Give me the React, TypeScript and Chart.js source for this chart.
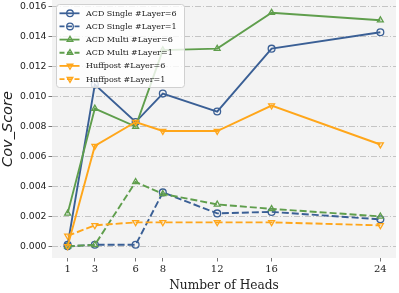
import React, { useEffect, useRef } from "react";
import { Chart, registerables } from "chart.js";

Chart.register(...registerables);

const heads = [1, 3, 6, 8, 12, 16, 24];
const yTicks = [0, 0.002, 0.004, 0.006, 0.008, 0.01, 0.012, 0.014, 0.016];

const acdSingle6 = [0.0001, 0.0108, 0.0083, 0.0102, 0.009, 0.0132, 0.0143];
const acdSingle1 = [0.0, 0.0001, 0.0001, 0.0036, 0.0022, 0.0023, 0.0018];
const acdMulti6 = [0.0022, 0.0092, 0.008, 0.0131, 0.0132, 0.0156, 0.0151];
const acdMulti1 = [0.0, 0.0001, 0.0043, 0.0035, 0.0028, 0.0025, 0.002];
const huff6 = [0.0, 0.0067, 0.0083, 0.0077, 0.0077, 0.0094, 0.0068];
const huff1 = [0.0007, 0.0014, 0.0016, 0.0016, 0.0016, 0.0016, 0.0014];

const labels = [
  "ACD Single #Layer=6",
  "ACD Single #Layer=1",
  "ACD Multi #Layer=6",
  "ACD Multi #Layer=1",
  "Huffpost #Layer=6",
  "Huffpost #Layer=1",
];

const BLUE = "#3a5f95";
const GREEN = "#5f9e4c";
const ORANGE = "#ffa61a";
const DASH = [7, 3];

const series = [
  { label: labels[0], data: acdSingle6, color: BLUE, style: "circle", rot: 0, dashed: false },
  { label: labels[1], data: acdSingle1, color: BLUE, style: "circle", rot: 0, dashed: true },
  { label: labels[2], data: acdMulti6, color: GREEN, style: "triangle", rot: 0, dashed: false },
  { label: labels[3], data: acdMulti1, color: GREEN, style: "triangle", rot: 0, dashed: true },
  { label: labels[4], data: huff6, color: ORANGE, style: "triangle", rot: 180, dashed: false },
  { label: labels[5], data: huff1, color: ORANGE, style: "triangle", rot: 180, dashed: true },
];

const bgPlugin = {
  id: "bgArea",
  beforeDraw(chart: any) {
    const { ctx, chartArea } = chart;
    ctx.save();
    ctx.fillStyle = "#f3f3f3";
    ctx.fillRect(chartArea.left, chartArea.top, chartArea.right - chartArea.left, chartArea.bottom - chartArea.top);
    ctx.restore();
  },
};

function drawMarker(ctx: CanvasRenderingContext2D, style: string, rot: number, x: number, y: number, r: number) {
  ctx.beginPath();
  if (style === "circle") {
    ctx.arc(x, y, r, 0, Math.PI * 2);
  } else {
    let rad = (rot * Math.PI) / 180;
    ctx.moveTo(x + Math.sin(rad) * r, y - Math.cos(rad) * r);
    rad += (2 * Math.PI) / 3;
    ctx.lineTo(x + Math.sin(rad) * r, y - Math.cos(rad) * r);
    rad += (2 * Math.PI) / 3;
    ctx.lineTo(x + Math.sin(rad) * r, y - Math.cos(rad) * r);
    ctx.closePath();
  }
  ctx.stroke();
}

const legendPlugin = {
  id: "mplLegend",
  afterDraw(chart: any) {
    const ctx: CanvasRenderingContext2D = chart.ctx;
    const bx = 56, by = 4, bw = 128, bh = 83;
    ctx.save();
    ctx.beginPath();
    (ctx as any).roundRect(bx + 0.5, by + 0.5, bw, bh, 3);
    ctx.fillStyle = "rgba(255,255,255,0.8)";
    ctx.fill();
    ctx.strokeStyle = "#d0d0d0";
    ctx.lineWidth = 1;
    ctx.stroke();
    ctx.font = "8px 'DejaVu Serif'";
    ctx.textBaseline = "middle";
    ctx.textAlign = "left";
    series.forEach((s, i) => {
      const cy = 13.3 + i * 13.15;
      ctx.strokeStyle = s.color;
      ctx.lineWidth = 1.8;
      ctx.setLineDash(s.dashed ? [5, 2.5] : []);
      ctx.beginPath();
      ctx.moveTo(59.5, cy);
      ctx.lineTo(79.5, cy);
      ctx.stroke();
      ctx.setLineDash([]);
      ctx.lineWidth = 1.3;
      drawMarker(ctx, s.style, s.rot, 70, cy, 3.3);
      ctx.fillStyle = "#222";
      ctx.fillText(s.label, 86, cy + 0.5);
    });
    ctx.restore();
  },
};

export default function App() {
  const ref = useRef<HTMLCanvasElement | null>(null);
  useEffect(() => {
    if (!ref.current) return;
    const chart = new Chart(ref.current, {
      type: "line",
      data: {
        datasets: series.map((s, i) => ({
          label: s.label,
          data: s.data.map((v, j) => ({ x: heads[j], y: v })),
          borderColor: s.color,
          backgroundColor: "transparent",
          borderWidth: 1.9,
          borderDash: s.dashed ? DASH : [],
          pointStyle: s.style as any,
          pointRotation: s.rot,
          pointRadius: 3.4,
          pointBorderWidth: 1.3,
          pointBorderColor: s.color,
          pointBackgroundColor: "transparent",
          tension: 0,
          fill: false,
          order: 6 - i,
        })),
      },
      options: {
        animation: false,
        responsive: false,
        maintainAspectRatio: false,
        layout: { autoPadding: false, padding: { left: 0, right: 3, top: 0, bottom: 0 } },
        plugins: { legend: { display: false }, tooltip: { enabled: false } },
        scales: {
          x: {
            type: "linear",
            min: -0.15,
            max: 25.15,
            afterBuildTicks: (s: any) => {
              s.ticks = heads.map((v) => ({ value: v }));
            },
            afterFit: (s: any) => {
              s.height = 35;
              s.paddingLeft = 0;
              s.paddingRight = 0;
            },
            ticks: {
              font: { family: "'DejaVu Serif'", size: 10 },
              color: "#222",
              padding: 2,
              maxRotation: 0,
              autoSkip: false,
            },
            grid: { drawOnChartArea: false, drawTicks: true, tickLength: 3.5, tickColor: "#777", tickWidth: 1 },
            border: { display: false },
            title: {
              display: true,
              text: "Number of Heads",
              font: { family: "'DejaVu Serif'", size: 12.2 },
              color: "#222",
              padding: { top: 1, bottom: 0 },
            },
          },
          y: {
            type: "linear",
            min: -0.00078,
            max: 0.01645,
            afterBuildTicks: (s: any) => {
              s.ticks = yTicks.map((v) => ({ value: v }));
            },
            afterFit: (s: any) => {
              s.width = 52;
              s.paddingTop = 0;
              s.paddingBottom = 0;
            },
            ticks: {
              font: { family: "'DejaVu Sans'", size: 9.3 },
              color: "#222",
              padding: 2,
              callback: (v: any) => Number(v).toFixed(3),
            },
            grid: { color: "#c4c4c4", lineWidth: 1, drawTicks: true, tickLength: 3.5, tickColor: "#777", tickBorderDash: [] },
            border: { display: false, dash: [6, 2, 1, 2] },
            title: {
              display: true,
              text: "Cov_Score",
              font: { family: "'DejaVu Sans'", size: 14.5, style: "italic" },
              color: "#222",
              padding: { top: 0, bottom: 2 },
            },
          },
        },
      },
      plugins: [bgPlugin, legendPlugin],
    } as any);
    return () => chart.destroy();
  }, []);
  return (
    <div style={{ position: "absolute", left: 0, top: 0, width: 399, height: 293, background: "#fff" }}>
      <canvas ref={ref} width={399} height={293} style={{ width: 399, height: 293 }} />
    </div>
  );
}
